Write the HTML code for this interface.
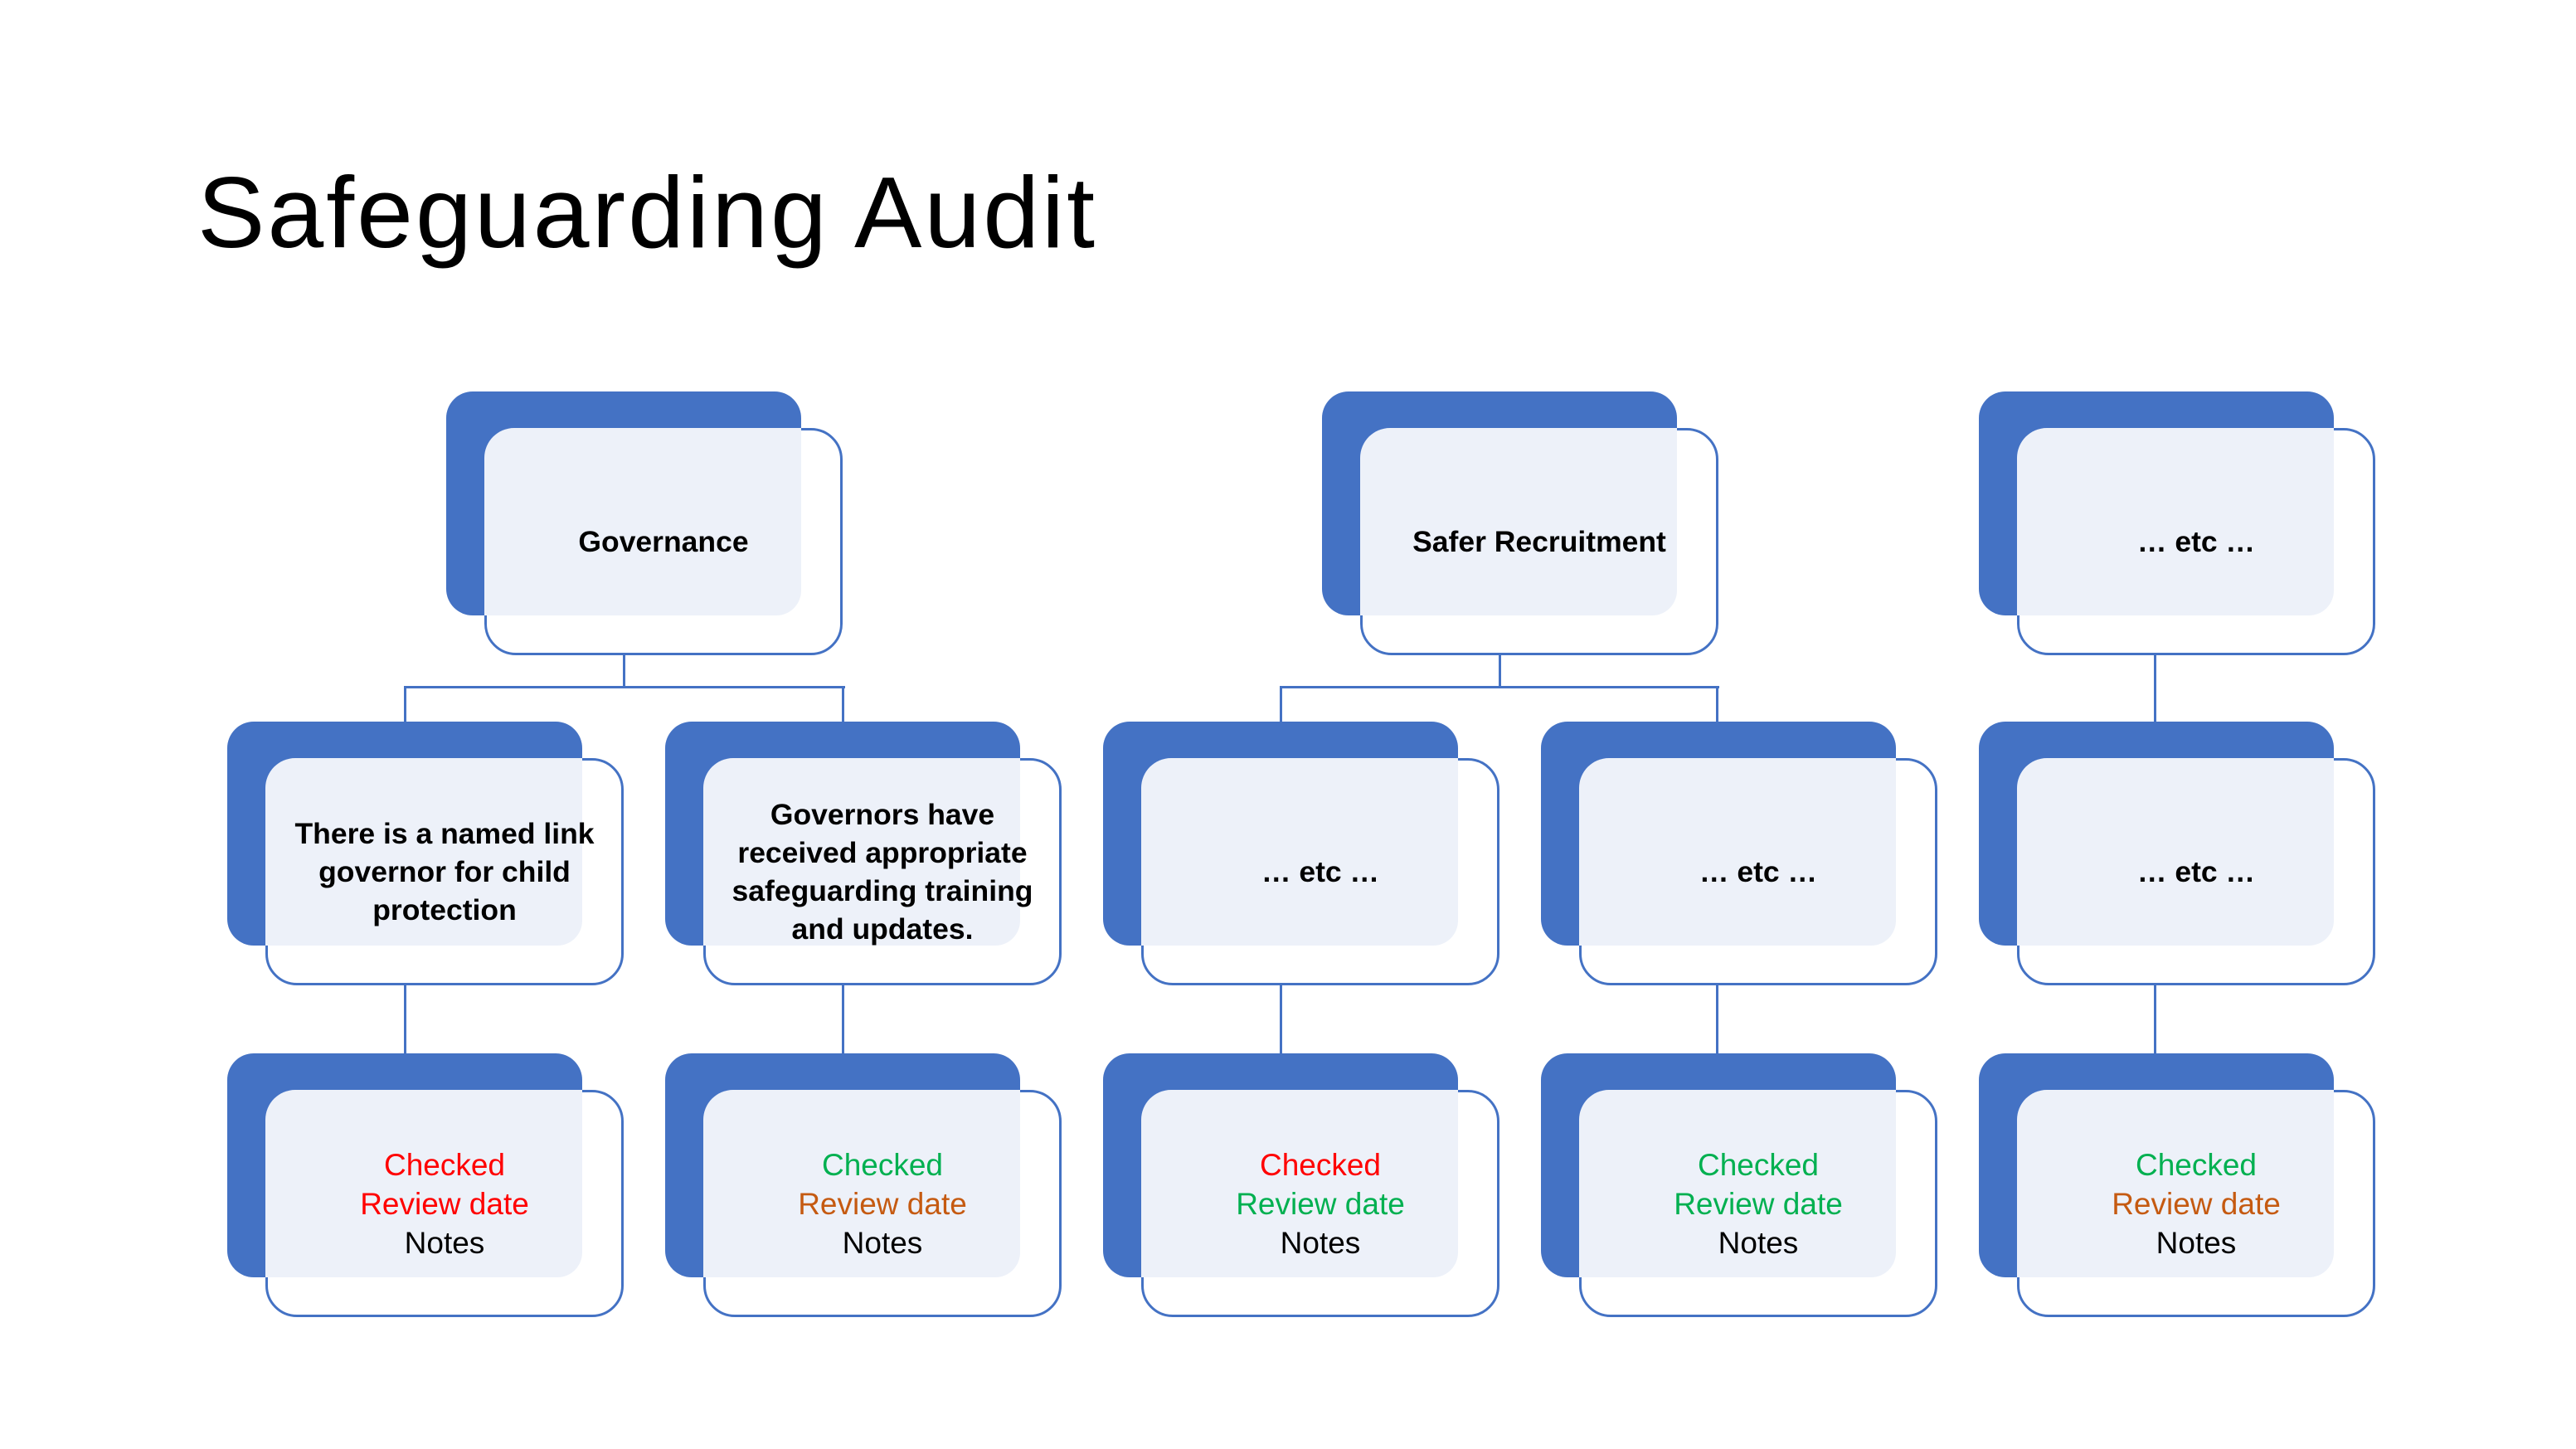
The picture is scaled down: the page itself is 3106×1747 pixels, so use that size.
<!DOCTYPE html>
<html><head><meta charset="utf-8"><style>
body{margin:0;width:3106px;height:1747px;background:#fff;position:relative;overflow:hidden;font-family:"Liberation Sans",sans-serif}
.b{position:absolute;width:428px;height:270px;background:#4472C4;border-radius:32px}
.w{position:absolute;width:432px;height:274px;border:3px solid #4472C4;border-radius:38px;box-sizing:border-box;background:#fff}
.l{position:absolute;width:382px;height:226px;background:#EDF1F9;border-radius:36px 0 30px 0}
.t{position:absolute;width:432px;height:274px;display:flex;align-items:center;justify-content:center;text-align:center;font-size:37px;line-height:47px;color:#000}
.bold{font-weight:bold;font-size:35.5px;line-height:46px}
.ln{position:absolute;background:#4472C4}
.r{color:#FF0000}.g{color:#00B050}.o{color:#C55A11}
h1{position:absolute;left:238px;top:186px;margin:0;font-weight:normal;font-size:122px;color:#000;letter-spacing:3px;white-space:nowrap}
</style></head><body>
<h1>Safeguarding Audit</h1>

<div class="ln" style="left:751px;top:788px;width:3px;height:42px"></div>
<div class="ln" style="left:487px;top:827px;width:532px;height:3px"></div>
<div class="ln" style="left:487px;top:827px;width:3px;height:90px"></div>
<div class="ln" style="left:1015px;top:827px;width:3px;height:90px"></div>
<div class="ln" style="left:1807px;top:788px;width:3px;height:42px"></div>
<div class="ln" style="left:1543px;top:827px;width:530px;height:3px"></div>
<div class="ln" style="left:1543px;top:827px;width:3px;height:90px"></div>
<div class="ln" style="left:2069px;top:827px;width:3px;height:90px"></div>
<div class="ln" style="left:2597px;top:788px;width:3px;height:128px"></div>
<div class="ln" style="left:487px;top:1188px;width:3px;height:84px"></div>
<div class="ln" style="left:1015px;top:1188px;width:3px;height:84px"></div>
<div class="ln" style="left:1543px;top:1188px;width:3px;height:84px"></div>
<div class="ln" style="left:2069px;top:1188px;width:3px;height:84px"></div>
<div class="ln" style="left:2597px;top:1188px;width:3px;height:84px"></div>

<div class="b" style="left:538px;top:472px"></div><div class="w" style="left:584px;top:516px"></div><div class="l" style="left:584px;top:516px"></div>
<div class="t bold" style="left:584px;top:516px">Governance</div>
<div class="b" style="left:1594px;top:472px"></div><div class="w" style="left:1640px;top:516px"></div><div class="l" style="left:1640px;top:516px"></div>
<div class="t bold" style="left:1640px;top:516px">Safer Recruitment</div>
<div class="b" style="left:2386px;top:472px"></div><div class="w" style="left:2432px;top:516px"></div><div class="l" style="left:2432px;top:516px"></div>
<div class="t bold" style="left:2432px;top:516px">… etc …</div>

<div class="b" style="left:274px;top:870px"></div><div class="w" style="left:320px;top:914px"></div><div class="l" style="left:320px;top:914px"></div>
<div class="t bold" style="left:320px;top:914px">There is a named link<br>governor for child<br>protection</div>
<div class="b" style="left:802px;top:870px"></div><div class="w" style="left:848px;top:914px"></div><div class="l" style="left:848px;top:914px"></div>
<div class="t bold" style="left:848px;top:914px">Governors have<br>received appropriate<br>safeguarding training<br>and updates.</div>
<div class="b" style="left:1330px;top:870px"></div><div class="w" style="left:1376px;top:914px"></div><div class="l" style="left:1376px;top:914px"></div>
<div class="t bold" style="left:1376px;top:914px">… etc …</div>
<div class="b" style="left:1858px;top:870px"></div><div class="w" style="left:1904px;top:914px"></div><div class="l" style="left:1904px;top:914px"></div>
<div class="t bold" style="left:1904px;top:914px">… etc …</div>
<div class="b" style="left:2386px;top:870px"></div><div class="w" style="left:2432px;top:914px"></div><div class="l" style="left:2432px;top:914px"></div>
<div class="t bold" style="left:2432px;top:914px">… etc …</div>

<div class="b" style="left:274px;top:1270px"></div><div class="w" style="left:320px;top:1314px"></div><div class="l" style="left:320px;top:1314px"></div>
<div class="t" style="left:320px;top:1314px"><div><span class="r">Checked</span><br><span class="r">Review date</span><br>Notes</div></div>
<div class="b" style="left:802px;top:1270px"></div><div class="w" style="left:848px;top:1314px"></div><div class="l" style="left:848px;top:1314px"></div>
<div class="t" style="left:848px;top:1314px"><div><span class="g">Checked</span><br><span class="o">Review date</span><br>Notes</div></div>
<div class="b" style="left:1330px;top:1270px"></div><div class="w" style="left:1376px;top:1314px"></div><div class="l" style="left:1376px;top:1314px"></div>
<div class="t" style="left:1376px;top:1314px"><div><span class="r">Checked</span><br><span class="g">Review date</span><br>Notes</div></div>
<div class="b" style="left:1858px;top:1270px"></div><div class="w" style="left:1904px;top:1314px"></div><div class="l" style="left:1904px;top:1314px"></div>
<div class="t" style="left:1904px;top:1314px"><div><span class="g">Checked</span><br><span class="g">Review date</span><br>Notes</div></div>
<div class="b" style="left:2386px;top:1270px"></div><div class="w" style="left:2432px;top:1314px"></div><div class="l" style="left:2432px;top:1314px"></div>
<div class="t" style="left:2432px;top:1314px"><div><span class="g">Checked</span><br><span class="o">Review date</span><br>Notes</div></div>
</body></html>
